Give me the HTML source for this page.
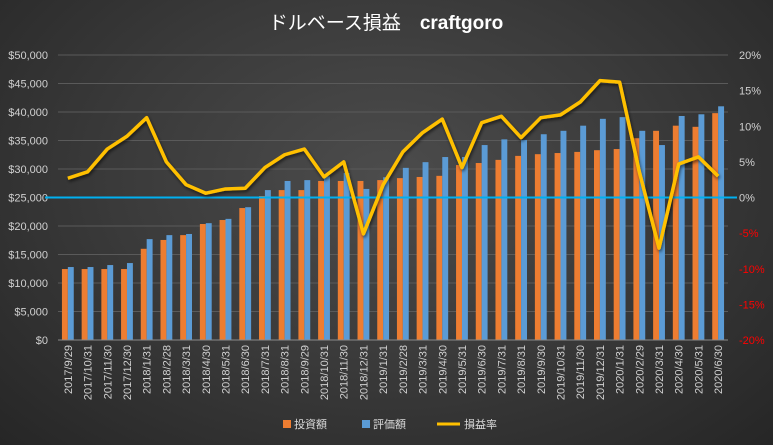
<!DOCTYPE html>
<html><head><meta charset="utf-8">
<style>
html,body{margin:0;padding:0;}
body{width:773px;height:445px;overflow:hidden;background:radial-gradient(ellipse at 50% 40%,#4c4c4c 0%,#3a3a3a 50%,#262626 100%);font-family:"Liberation Sans","Noto Sans CJK JP",sans-serif;}
svg{position:absolute;left:0;top:0;}
</style></head>
<body>
<svg id="chart" width="773" height="445" xmlns="http://www.w3.org/2000/svg">
  <defs>
    <filter id="sh" x="-5%" y="-5%" width="110%" height="120%"><feDropShadow dx="1" dy="2" stdDeviation="1.5" flood-color="#000" flood-opacity="0.6"/></filter>
  </defs>
  <text x="386" y="29" text-anchor="middle" fill="#ffffff" font-size="19" font-family="'Liberation Sans','Noto Sans CJK JP',sans-serif">ドルベース損益　<tspan font-weight="bold">craftgoro</tspan></text>
  <g id="grid"></g>
  <g id="bars"></g>
  <g id="yl"></g>
  <g id="yr"></g>
  <g id="xl"></g>
  <g id="ln"></g>
  <g>
    <rect x="283" y="420" width="8" height="8" fill="#ED7D31"/>
    <text x="294" y="428" fill="#d9d9d9" font-size="11">投資額</text>
    <rect x="362" y="420" width="8" height="8" fill="#5B9BD5"/>
    <text x="373" y="428" fill="#d9d9d9" font-size="11">評価額</text>
    <line x1="437" y1="424" x2="460" y2="424" stroke="#FFC000" stroke-width="3"/>
    <text x="464" y="428" fill="#d9d9d9" font-size="11">損益率</text>
  </g>
</svg>
<script>
const categories=["2017/9/29","2017/10/31","2017/11/30","2017/12/30","2018/1/31","2018/2/28","2018/3/31","2018/4/30","2018/5/31","2018/6/30","2018/7/31","2018/8/31","2018/9/29","2018/10/31","2018/11/30","2018/12/31","2019/1/31","2019/2/28","2019/3/31","2019/4/30","2019/5/31","2019/6/30","2019/7/31","2019/8/31","2019/9/30","2019/10/31","2019/11/30","2019/12/31","2020/1/31","2020/2/29","2020/3/31","2020/4/30","2020/5/31","2020/6/30"];
const investment=[12450,12450,12450,12450,16000,17550,18400,20350,21050,23150,25250,26300,26300,27900,27900,27900,28050,28400,28600,28800,30700,31050,31600,32300,32600,32800,33000,33300,33500,35400,36700,37600,37400,39800];
const valuation=[12800,12800,13150,13500,17700,18400,18600,20500,21250,23300,26300,27900,28050,28700,29300,26500,28550,30200,31200,32100,32100,34200,35200,35100,36100,36700,37600,38800,39100,36700,34200,39300,39600,41000];
const rate=[2.7,3.6,6.8,8.6,11.2,5.0,1.8,0.6,1.2,1.3,4.2,6.0,6.8,2.9,5.0,-5.1,1.8,6.4,9.1,11.0,4.2,10.5,11.4,8.4,11.2,11.6,13.4,16.4,16.2,3.6,-7.1,4.7,5.7,3.0];
const leftTicks=["$0","$5,000","$10,000","$15,000","$20,000","$25,000","$30,000","$35,000","$40,000","$45,000","$50,000"];
const rightTicks=["-20%","-15%","-10%","-5%","0%","5%","10%","15%","20%"];

const NS="http://www.w3.org/2000/svg";
const X0=58,X1=728,Y0=340,Y1=55;
const cw=(X1-X0)/categories.length;
const yL=v=>Y0-(v/50000)*(Y0-Y1);
const yR=p=>Y0-((p+20)/40)*(Y0-Y1);
const xC=i=>X0+cw*(i+0.5);
function mk(tag,attrs,parent){const e=document.createElementNS(NS,tag);for(const k in attrs)e.setAttribute(k,attrs[k]);parent.appendChild(e);return e;}
const grid=document.getElementById('grid'),bars=document.getElementById('bars'),yl=document.getElementById('yl'),yr=document.getElementById('yr'),xl=document.getElementById('xl'),ln=document.getElementById('ln');

leftTicks.forEach((t,i)=>{
  const y=yL(i*5000);
  if(i>0){const g=mk('line',{x1:X0,x2:X1,y1:y,y2:y,stroke:'#5a5a5a','stroke-width':1},grid);
  
  }
  const tx=mk('text',{x:48,y:y+4,'text-anchor':'end',fill:'#d0d0d0','font-size':11},yl);
  
  
  tx.textContent=t;
});
rightTicks.forEach((t,i)=>{
  const p=-20+i*5;
  const tx=mk('text',{x:739,y:yR(p)+4,fill:p<0?'#ff0000':'#d0d0d0','font-size':11},yr);
  
  
  tx.textContent=t;
});
const bw=cw*0.3;
categories.forEach((c,i)=>{
  const xc=xC(i);
  const r1=mk('rect',{x:xc-bw,y:yL(investment[i]),width:bw,height:Y0-yL(investment[i]),fill:'#ED7D31'},bars);
  
  
  const r2=mk('rect',{x:xc,y:yL(valuation[i]),width:bw,height:Y0-yL(valuation[i]),fill:'#5B9BD5'},bars);
  
  
  const tx=mk('text',{x:0,y:0,'text-anchor':'end',fill:'#d0d0d0','font-size':11,transform:`translate(${xc+4},345) rotate(-90)`},xl);
  
  
  tx.textContent=c;
});
const ax=mk('line',{x1:X0,x2:X1,y1:Y0,y2:Y0,stroke:'#8a8a8a','stroke-width':1},xl);


const zl=mk('line',{x1:45,x2:737,y1:yR(0),y2:yR(0),stroke:'#00B0F0','stroke-width':2},ln);


const pts=rate.map((p,i)=>xC(i)+','+yR(p)).join(' ');
const pl=mk('polyline',{points:pts,fill:'none',stroke:'#FFC000','stroke-width':3.5,'stroke-linejoin':'round',filter:'url(#sh)'},ln);


</script>
</body></html>
